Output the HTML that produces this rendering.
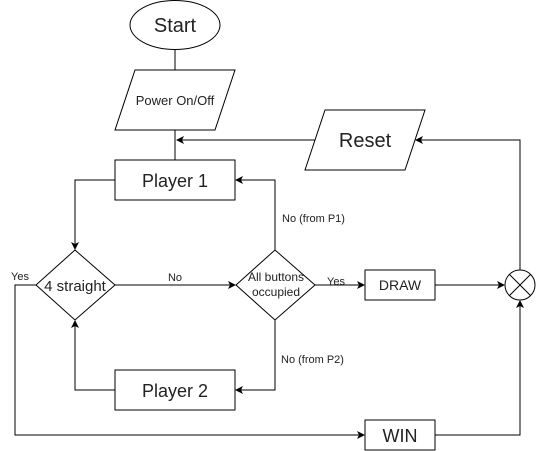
<!DOCTYPE html>
<html><head><style>body{margin:0;background:#fff}svg{display:block}text{font-family:"Liberation Sans",sans-serif;fill:#222}</style></head>
<body>
<svg width="536" height="451" viewBox="0 0 536 451">
<defs><marker id="a" markerWidth="8" markerHeight="8" refX="7" refY="4" orient="auto" markerUnits="userSpaceOnUse"><path d="M0,0 L8,4 L0,8 L2,4 Z" fill="#000"/></marker></defs>
<g fill="none" stroke="#000" stroke-width="1">
<ellipse cx="175" cy="25" rx="45" ry="24.5" fill="#fff"/>
<path d="M135,70 H235 L215,130 H115 Z"/>
<path d="M325,110 H425 L405,170 H305 Z"/>
<rect x="115" y="160" width="120" height="40"/>
<rect x="115" y="370" width="120" height="40"/>
<rect x="365" y="270" width="70" height="30"/>
<rect x="365" y="420" width="70" height="30"/>
<path d="M75,250 L115,285 L75,320 L36,285 Z"/>
<path d="M275,250 L315,285 L275,320 L236,285 Z"/>
<circle cx="520" cy="285" r="15"/>
<path d="M509.4,274.4 L530.6,295.6 M530.6,274.4 L509.4,295.6"/>
<path d="M175,50 V70 M175,130 V160"/>
<path d="M315,140 H177" marker-end="url(#a)"/>
<path d="M520,270 V140 H416" marker-end="url(#a)"/>
<path d="M115,180 H75 V249" marker-end="url(#a)"/>
<path d="M115,285 H235" marker-end="url(#a)"/>
<path d="M275,250 V180 H236" marker-end="url(#a)"/>
<path d="M315,285 H364" marker-end="url(#a)"/>
<path d="M435,285 H504" marker-end="url(#a)"/>
<path d="M275,320 V390 H236" marker-end="url(#a)"/>
<path d="M115,390 H75 V321" marker-end="url(#a)"/>
<path d="M36,285 H15 V435 H364" marker-end="url(#a)"/>
<path d="M435,435 H520 V301" marker-end="url(#a)"/>
</g>
<g text-anchor="middle">
<text x="175" y="32" font-size="20">Start</text>
<text x="175" y="105" font-size="13">Power On/Off</text>
<text x="365" y="147" font-size="20">Reset</text>
<text x="175" y="187" font-size="18">Player 1</text>
<text x="175" y="397" font-size="18">Player 2</text>
<text x="400" y="290" font-size="14">DRAW</text>
<text x="400" y="442" font-size="18">WIN</text>
<text x="75" y="291" font-size="15">4 straight</text>
<text x="276" y="281" font-size="12">All buttons</text>
<text x="276" y="296" font-size="12">occupied</text>
<text x="175" y="281" font-size="11">No</text>
<text x="336" y="285" font-size="11">Yes</text>
<text x="20" y="280" font-size="11">Yes</text>
</g>
<text x="282" y="222" font-size="11">No (from P1)</text>
<text x="281" y="363" font-size="11">No (from P2)</text>
</svg>
</body></html>
